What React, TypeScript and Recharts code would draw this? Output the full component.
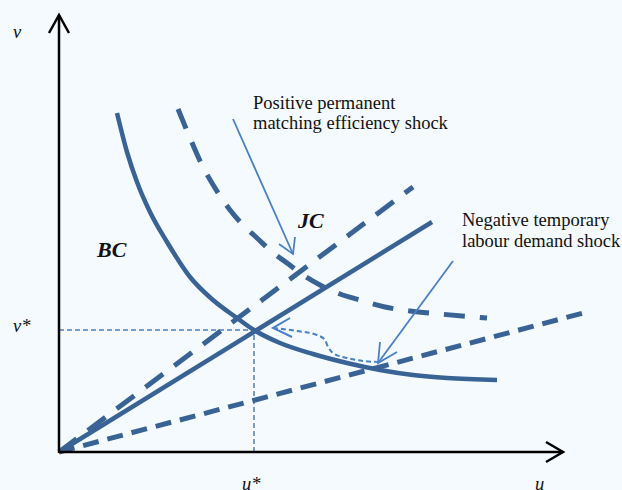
import { ComposedChart, Line, Scatter, XAxis, YAxis } from "recharts";

// coordinates: u to the right of the origin, v above it (diagram units)
const bcCurve = [
  { x: 58, y: 339 }, { x: 68, y: 300 }, { x: 78, y: 270 }, { x: 91, y: 240 },
  { x: 108, y: 210 }, { x: 131, y: 175 }, { x: 154, y: 152 }, { x: 178, y: 134 },
  { x: 195, y: 122 }, { x: 221, y: 109 }, { x: 254, y: 98 }, { x: 288, y: 89 },
  { x: 321, y: 82 }, { x: 354, y: 77 }, { x: 388, y: 74 }, { x: 438, y: 72 },
];
const bcShifted = [
  { x: 119, y: 343 }, { x: 131, y: 314 }, { x: 143, y: 287 }, { x: 156, y: 264 },
  { x: 171, y: 242 }, { x: 184, y: 227 }, { x: 198, y: 214 }, { x: 213, y: 200 },
  { x: 228, y: 189 }, { x: 244, y: 177 }, { x: 261, y: 167 }, { x: 281, y: 158 },
  { x: 301, y: 152 }, { x: 326, y: 145 }, { x: 351, y: 141 }, { x: 381, y: 138 },
  { x: 428, y: 134 },
];
const jcLine = [{ x: 0, y: 0 }, { x: 373, y: 230 }];
const jcSteep = [{ x: 0, y: 0 }, { x: 354, y: 265 }];
const jcFlat = [{ x: 0, y: 0 }, { x: 528, y: 140 }];

const vStarGuide = [{ x: 0, y: 122 }, { x: 195, y: 122 }];
const uStarGuide = [{ x: 195, y: 0 }, { x: 195, y: 122 }];

const axisV = [{ x: 0, y: -1 }, { x: 0, y: 437 }];
const axisU = [{ x: 0, y: 0 }, { x: 504, y: 0 }];
const headV = [{ x: -10, y: 419 }, { x: 0, y: 437 }, { x: 10, y: 419 }];
const headU = [{ x: 487, y: 10 }, { x: 504, y: 0 }, { x: 487, y: -10 }];

const arrowMatch = [{ x: 174, y: 333 }, { x: 234, y: 198 }];
const arrowMatchHead = [{ x: 220, y: 208 }, { x: 234, y: 198 }, { x: 236, y: 215 }];
const arrowDemand = [{ x: 394, y: 191 }, { x: 319, y: 89 }];
const arrowDemandHead = [{ x: 321, y: 110 }, { x: 319, y: 89 }, { x: 338, y: 100 }];
const pathBack = [
  { x: 214, y: 124 }, { x: 238, y: 121 }, { x: 258, y: 117 }, { x: 266, y: 112 },
  { x: 269, y: 105 }, { x: 274, y: 99 }, { x: 288, y: 94 }, { x: 304, y: 91 },
  { x: 319, y: 90 },
];
const pathBackHead = [{ x: 231, y: 134 }, { x: 214, y: 124 }, { x: 233, y: 115 }];

const labels = [
  { x: -46, y: 414, text: "v", style: "italic", weight: "normal", size: 18.5 },
  { x: -46, y: 120, text: "v*", style: "italic", weight: "normal", size: 18.5 },
  { x: 183, y: -38, text: "u*", style: "italic", weight: "normal", size: 18.5 },
  { x: 476, y: -38, text: "u", style: "italic", weight: "normal", size: 18.5 },
  { x: 194, y: 343, text: "Positive permanent", style: "normal", weight: "normal", size: 18.5 },
  { x: 194, y: 323, text: "matching efficiency shock", style: "normal", weight: "normal", size: 18.5 },
  { x: 403, y: 226, text: "Negative temporary", style: "normal", weight: "normal", size: 18.5 },
  { x: 403, y: 205, text: "labour demand shock", style: "normal", weight: "normal", size: 18.5 },
  { x: 239, y: 224, text: "JC", style: "italic", weight: "bold", size: 22 },
  { x: 38, y: 195, text: "BC", style: "italic", weight: "bold", size: 22 },
];

const MAIN = "#3A6395";
const THIN = "#4A80C4";
const FONT = "'Liberation Serif', 'Times New Roman', serif";

const TextMark = (p: any) => (
  <text
    x={p.cx}
    y={p.cy}
    fill="#111"
    fontFamily={FONT}
    fontSize={p.payload.size}
    fontStyle={p.payload.style}
    fontWeight={p.payload.weight}
  >
    {p.payload.text}
  </text>
);

export default function App() {
  const seg = (data: { x: number; y: number }[], stroke: string, width: number, dash?: string, curve: "linear" | "monotone" = "linear") => (
    <Line
      data={data}
      dataKey="y"
      type={curve}
      stroke={stroke}
      strokeWidth={width}
      strokeDasharray={dash}
      strokeLinejoin="miter"
      dot={false}
      activeDot={false}
      isAnimationActive={false}
    />
  );

  return (
    <div style={{ position: "absolute", left: 0, top: 0, width: 622, height: 490, background: "#F4FAFE" }}>
      <ComposedChart width={622} height={490} margin={{ top: 0, right: 0, bottom: 0, left: 0 }}>
        <XAxis dataKey="x" type="number" domain={[-59, 563]} allowDataOverflow hide />
        <YAxis dataKey="y" type="number" domain={[-38, 452]} allowDataOverflow hide />

        {seg(vStarGuide, THIN, 1.5, "5 3")}
        {seg(uStarGuide, THIN, 1.5, "5 3")}

        {seg(jcFlat, MAIN, 5, "16 9")}
        {seg(jcSteep, MAIN, 5, "22 14")}
        {seg(jcLine, MAIN, 4.5)}
        {seg(bcShifted, MAIN, 5, "21 15", "monotone")}
        {seg(bcCurve, MAIN, 4.5, undefined, "monotone")}

        {seg(arrowMatch, THIN, 1.8)}
        {seg(arrowMatchHead, THIN, 1.8)}
        {seg(arrowDemand, THIN, 1.8)}
        {seg(arrowDemandHead, THIN, 1.8)}
        {seg(pathBack, THIN, 2, "5 3", "monotone")}
        {seg(pathBackHead, THIN, 2)}

        {seg(axisV, "#000", 2.5)}
        {seg(axisU, "#000", 2.5)}
        {seg(headV, "#000", 2.5)}
        {seg(headU, "#000", 2.5)}

        <Scatter data={labels} dataKey="y" shape={TextMark} isAnimationActive={false} />
      </ComposedChart>
    </div>
  );
}
